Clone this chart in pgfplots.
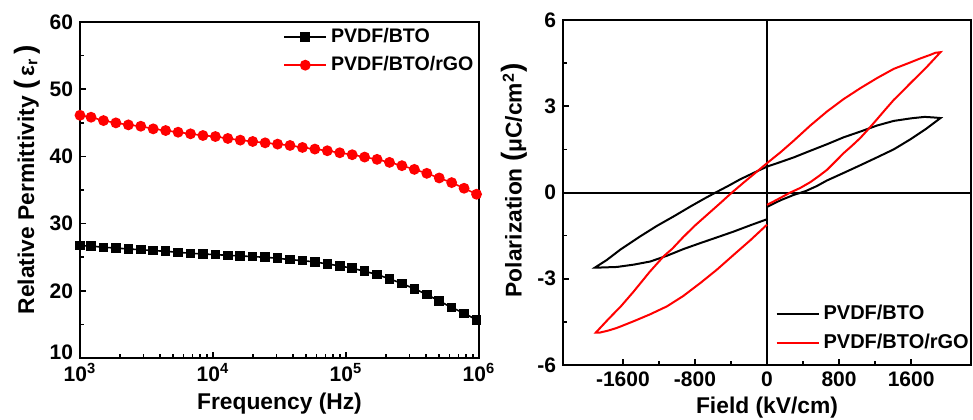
\documentclass[border=0pt]{standalone}
\usepackage{fontspec}
\setmainfont{Liberation Sans}
\usepackage{pgfplots}
\pgfplotsset{compat=1.18}
\definecolor{myred}{RGB}{255,0,0}
\newcommand{\tickfont}{\bfseries\fontsize{10.5}{12}\selectfont}
\newcommand{\labfont}{\bfseries\fontsize{11.4}{13}\selectfont}
\newcommand{\legfont}{\bfseries\fontsize{9.8}{11}\selectfont}
\newcommand{\bp}[1]{{\fontsize{14}{14}\selectfont #1}}
\begin{document}
\begin{tikzpicture}
\pgfplotsset{
  common/.style={
    scale only axis,
    anchor=south west,
    tick pos=left,
    tick align=inside,
    major tick length=3pt,
    minor tick length=1.8pt,
    every tick/.style={black, line width=0.8pt},
    axis line style={line width=1pt},
    ticklabel style={font=\tickfont},
    label style={font=\labfont},
    ylabel shift=-2pt,
    legend cell align=left,
    legend style={draw=none, fill=none, font=\legfont, row sep=1.5pt},
  }
}
\begin{axis}[common,
  at={(40pt,30.5pt)}, width=199.5pt, height=168pt,
  xmode=log, xmin=1e3, xmax=1e6, ymin=10, ymax=60,
  xtick={1e3,1e4,1e5,1e6},
  xticklabels={10\textsuperscript{3},10\textsuperscript{4},10\textsuperscript{5},10\textsuperscript{6}},
  minor xtick={2e3,3e3,4e3,5e3,6e3,7e3,8e3,9e3,2e4,3e4,4e4,5e4,6e4,7e4,8e4,9e4,2e5,3e5,4e5,5e5,6e5,7e5,8e5,9e5},
  xticklabel style={yshift=1pt},
  ytick={10,20,30,40,50,60},
  yticklabels={\raisebox{6pt}{10},20,30,40,50,60},
  minor y tick num=1,
  xlabel={Frequency (Hz)},
  xlabel style={yshift=1pt},
  ylabel={Relative Permittivity \bp{(}\,ε\textsubscript{r}\,\bp{)}},
  every axis y label/.append style={at={(ticklabel cs:0.53)}},
  legend style={at={(1.012,1.006)}, anchor=north east},
  legend image code/.code={\draw[mark repeat=2,mark phase=2,#1] plot coordinates {(0pt,0pt) (10.5pt,0pt) (21pt,0pt)};},
]
\addplot[black, line width=0.8pt, mark=square*, mark size=2pt, mark options={solid}] coordinates {
(1000,26.72) (1211,26.67) (1502,26.47) (1862,26.37) (2310,26.22) (2864,26.12)
(3552,25.98) (4406,25.88) (5464,25.73) (6776,25.58) (8405,25.48) (10423,25.38)
(12928,25.28) (16032,25.19) (19884,25.09) (24660,24.99) (30585,24.84) (37931,24.64)
(47043,24.49) (58345,24.30) (72361,24.00) (89743,23.70) (111302,23.36) (138038,22.91)
(171199,22.42) (212324,21.78) (263329,21.09) (326588,20.30) (405048,19.46) (502343,18.47)
(623017,17.53) (772681,16.64) (958297,15.70)
};
\addlegendentry{PVDF/BTO}
\addplot[myred, line width=0.8pt, mark=*, mark size=2.3pt, mark options={solid}] coordinates {
(1000,46.12) (1211,45.83) (1502,45.33) (1862,44.99) (2310,44.69) (2864,44.49)
(3552,44.10) (4406,43.85) (5464,43.60) (6776,43.36) (8405,43.11) (10423,42.96)
(12928,42.67) (16032,42.42) (19884,42.22) (24660,42.02) (30585,41.83) (37931,41.63)
(47043,41.33) (58345,41.09) (72361,40.84) (89743,40.54) (111302,40.25) (138038,39.90)
(171199,39.56) (212324,39.11) (263329,38.62) (326588,38.07) (405048,37.48) (502343,36.79)
(623017,36.10) (772681,35.26) (958297,34.37)
};
\addlegendentry{PVDF/BTO/rGO}
\end{axis}

\begin{axis}[common,
  at={(281.5pt,27pt)}, width=204pt, height=172.5pt,
  xmin=-2265, xmax=2265, ymin=-6, ymax=6,
  xtick={-1600,-800,0,800,1600},
  xticklabels={-1600,-800,0,800,1600},
  minor x tick num=1,
  ytick={-6,-3,0,3,6},
  yticklabels={-6,-3,0,3,6},
  minor y tick num=1,
  xlabel={Field (kV/cm)},
  xlabel style={yshift=2pt},
  ylabel={Polarization \bp{(}μC/cm\textsuperscript{2}\bp{)}},
  every axis y label/.append style={at={(ticklabel cs:0.535)}},
  legend style={at={(1.02,0.015)}, anchor=south east, font={\bfseries\fontsize{10}{11}\selectfont}},
  legend image code/.code={\draw[#1] (0pt,0pt) -- (21pt,0pt);},
]
\addplot[black, line width=1pt, forget plot] coordinates {(0,-6) (0,6)};
\addplot[black, line width=1pt, forget plot] coordinates {(-2265,0) (2265,0)};
\addplot[black, line width=1pt] coordinates {
(0,-0.50) (150,-0.27) (300,-0.08) (430,0.05) (550,0.22) (667,0.42) (850,0.68)
(1037,0.95) (1220,1.22) (1407,1.50) (1592,1.85) (1760,2.20) (1926,2.59)
(1850,2.61) (1750,2.63) (1600,2.58) (1407,2.49) (1222,2.33) (1037,2.12) (851,1.92)
(667,1.68) (480,1.45) (296,1.22) (150,1.06) (0,0.90) (-150,0.68) (-297,0.46)
(-430,0.23) (-570,0.00) (-700,-0.22) (-852,-0.49) (-1030,-0.82) (-1222,-1.16)
(-1420,-1.55) (-1630,-1.99) (-1780,-2.35) (-1910,-2.61)
(-1852,-2.61) (-1667,-2.59) (-1482,-2.51) (-1296,-2.40) (-1111,-2.20) (-930,-1.97)
(-741,-1.76) (-555,-1.56) (-371,-1.36) (-185,-1.14) (0,-0.93)
};
\addlegendentry{PVDF/BTO}
\addplot[myred, line width=1pt] coordinates {
(0,-0.43) (111,-0.25) (259,0.00) (370,0.16) (481,0.36) (575,0.57) (667,0.79)
(760,1.08) (851,1.37) (945,1.63) (1037,1.90) (1130,2.22) (1222,2.55) (1315,2.89)
(1407,3.22) (1500,3.51) (1592,3.80) (1685,4.09) (1778,4.38) (1926,4.88)
(1870,4.86) (1815,4.79) (1700,4.66) (1555,4.48) (1407,4.30) (1222,3.98) (1037,3.63)
(851,3.25) (667,2.82) (481,2.33) (296,1.80) (150,1.40) (0,1.02) (-111,0.73)
(-250,0.37) (-389,0.00) (-530,-0.40) (-667,-0.78) (-800,-1.15) (-930,-1.55)
(-1050,-1.95) (-1148,-2.22) (-1300,-2.75) (-1482,-3.45) (-1620,-3.95) (-1760,-4.40)
(-1900,-4.87)
(-1852,-4.87) (-1760,-4.80) (-1667,-4.71) (-1482,-4.48) (-1300,-4.24) (-1111,-3.96)
(-930,-3.60) (-741,-3.15) (-555,-2.68) (-371,-2.17) (-185,-1.66) (0,-1.12)
};
\addlegendentry{PVDF/BTO/rGO}
\end{axis}
\pgfresetboundingbox
\path (0,0) rectangle (486.5pt,209.5pt);
\end{tikzpicture}
\end{document}
